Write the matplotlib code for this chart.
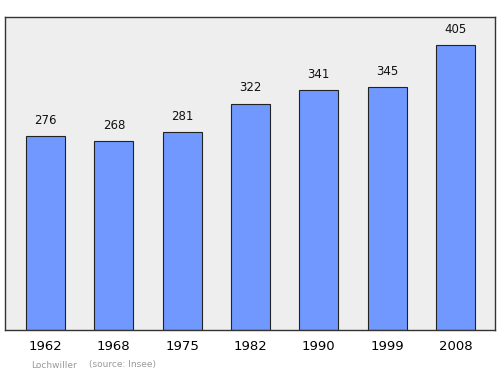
import matplotlib
matplotlib.use("Agg")
import matplotlib.pyplot as plt

years = ["1962", "1968", "1975", "1982", "1990", "1999", "2008"]
population = [276, 268, 281, 322, 341, 345, 405]

fig = plt.figure(figsize=(5, 3.74), dpi=100)
ax = fig.add_axes([0.01, 1 - 330 / 374, 0.98, 313 / 374])
ax.set_facecolor("#eeeeee")
x = list(range(len(years)))
ax.bar(x, population, width=0.571, color="#7098ff", edgecolor="#222222", linewidth=0.8)
for xi, v in zip(x, population):
    ax.annotate(str(v), (xi, v), xytext=(0, 6.5), textcoords="offset points",
                ha="center", va="bottom", fontsize=8.5, color="#111111")
ax.set_xlim(-0.593, 6.578)
ax.set_ylim(0, 445)
ax.set_yticks([])
ax.set_xticks(x)
ax.set_xticklabels(years, fontsize=9.5)
ax.tick_params(axis="x", length=0, pad=7)
for s in ax.spines.values():
    s.set_color("#333333")
    s.set_linewidth(1.0)
fig.text(31 / 500, 1 - 365 / 374, "Lochwiller", fontsize=6.5, color="#999999", va="center", ha="left")
fig.text(89 / 500, 1 - 365 / 374, "(source: Insee)", fontsize=6.5, color="#999999", va="center", ha="left")
fig.savefig("out.png", dpi=100)
